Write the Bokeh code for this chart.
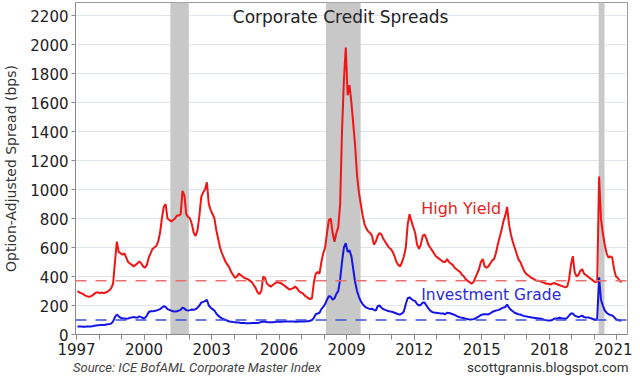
from bokeh.plotting import figure
from bokeh.models import BoxAnnotation, Span, Label, FixedTicker, Range1d, LinearAxis
from bokeh.embed import file_html
from bokeh.resources import INLINE

title_text = "Corporate Credit Spreads"
y_label = "Option-Adjusted Spread (bps)"
source_text = "Source: ICE BofAML Corporate Master Index"
blog_text = "scottgrannis.blogspot.com"
hy_name = "High Yield"
ig_name = "Investment Grade"

start_year = 1997  # monthly values, Jan 1997 onwards

hy = [
    300, 290, 285, 280, 270, 265, 260, 262, 270, 280, 290, 290,        # 1997
    285, 290, 285, 290, 295, 305, 320, 350, 500, 640, 570, 560,        # 1998
    550, 560, 530, 500, 490, 480, 470, 480, 490, 505, 490, 470,        # 1999
    460, 480, 530, 560, 590, 600, 610, 640, 700, 800, 880, 900,        # 2000
    800, 790, 780, 790, 800, 820, 820, 830, 990, 960, 830, 810,        # 2001
    800, 760, 700, 680, 720, 820, 950, 980, 1000, 1050, 900, 860,      # 2002
    830, 800, 720, 660, 600, 560, 530, 500, 480, 460, 430, 410,        # 2003
    390, 400, 420, 410, 400, 390, 385, 380, 370, 360, 340, 320,        # 2004
    290, 280, 300, 400, 390, 350, 340, 330, 340, 350, 360, 360,        # 2005
    355, 350, 340, 330, 320, 310, 315, 320, 330, 320, 300, 290,        # 2006
    285, 270, 260, 250, 245, 250, 360, 420, 430, 420, 500, 560,        # 2007
    600, 700, 790, 800, 700, 640, 700, 740, 900, 1400, 1750, 1980,     # 2008
    1650, 1720, 1600, 1450, 1300, 1100, 980, 900, 820, 760, 730, 710,  # 2009
    700, 680, 620, 640, 680, 700, 690, 660, 640, 620, 600, 590,        # 2010
    570, 540, 500, 480, 470, 500, 540, 600, 760, 830, 780, 740,        # 2011
    700, 620, 590, 620, 680, 690, 660, 620, 600, 580, 560, 540,        # 2012
    530, 520, 510, 500, 500, 520, 500, 490, 480, 460, 450, 440,        # 2013
    430, 410, 400, 380, 370, 360, 350, 360, 390, 420, 450, 500,        # 2014
    520, 470, 460, 470, 490, 510, 520, 560, 620, 670, 720, 780,        # 2015
    820, 880, 760, 690, 640, 600, 560, 520, 500, 470, 440, 420,        # 2016
    410, 400, 390, 385, 375, 370, 370, 365, 360, 355, 350, 350,        # 2017
    345, 350, 355, 350, 345, 340, 335, 330, 325, 330, 380, 480,        # 2018
    540, 430, 400, 410, 440, 450, 420, 410, 400, 390, 380, 370,        # 2019
    360, 365, 1090, 800, 700, 620, 560, 530, 540, 530, 450, 400,       # 2020
    390, 370, 360,                                                     # 2021
]

ig = [
    56, 55, 55, 54, 54, 55, 55, 56, 57, 60, 62, 63,          # 1997
    65, 66, 66, 68, 70, 72, 75, 90, 120, 138, 125, 115,      # 1998
    112, 110, 108, 110, 115, 118, 120, 118, 115, 125, 120, 112,  # 1999
    115, 130, 155, 160, 160, 162, 165, 170, 175, 185, 195, 190,  # 2000
    175, 170, 165, 160, 158, 160, 165, 170, 185, 180, 168, 165,  # 2001
    168, 172, 170, 175, 185, 200, 220, 225, 230, 240, 200, 185,  # 2002
    175, 165, 145, 130, 120, 110, 105, 100, 95, 90, 88, 86,      # 2003
    85, 83, 82, 80, 80, 79, 78, 78, 78, 80, 80, 80,              # 2004
    80, 82, 86, 90, 88, 86, 85, 84, 85, 86, 88, 88,              # 2005
    88, 88, 89, 90, 90, 90, 90, 89, 88, 88, 89, 90,              # 2006
    90, 90, 92, 92, 95, 100, 115, 140, 145, 150, 175, 190,       # 2007
    210, 240, 265, 260, 240, 250, 280, 300, 380, 500, 600, 630,  # 2008
    570, 580, 540, 450, 360, 300, 260, 230, 210, 195, 185, 180,  # 2009
    175, 178, 170, 165, 195, 200, 185, 175, 170, 165, 160, 158,  # 2010
    155, 150, 145, 140, 138, 145, 160, 210, 250, 256, 245, 235,  # 2011
    230, 210, 200, 205, 220, 220, 200, 180, 165, 155, 152, 150,  # 2012
    148, 146, 145, 145, 140, 150, 148, 145, 140, 135, 128, 122,  # 2013
    118, 115, 112, 108, 106, 104, 104, 106, 110, 118, 125, 135,  # 2014
    138, 140, 140, 138, 145, 155, 160, 165, 168, 172, 180, 185,  # 2015
    190, 207, 185, 170, 160, 150, 145, 140, 138, 132, 128, 125,  # 2016
    122, 120, 118, 116, 114, 112, 110, 108, 105, 100, 98, 97,    # 2017
    97, 100, 108, 110, 112, 115, 112, 110, 108, 115, 130, 145,   # 2018
    145, 130, 125, 120, 125, 130, 120, 118, 118, 115, 110, 105,  # 2019
    100, 110, 394, 240, 200, 166, 150, 140, 135, 131, 120, 105,  # 2020
    100, 97, 97,                                                 # 2021
]

hy_avg = 370
ig_avg = 100

recessions = [(2001.17, 2001.99), (2008.08, 2009.62), (2020.19, 2020.45)]

x_tick_years = [1997, 2000, 2003, 2006, 2009, 2012, 2015, 2018, 2021]
x_minor_years = list(range(1997, 2022))
y_ticks = list(range(0, 2201, 200))

# text anchor positions (x in years) for the footer texts
source_pos = 2002.35
blog_pos = 2018.28

x = [start_year + (i + 0.5) / 12.0 for i in range(len(hy))]

FONT = "DejaVu Sans"

p = figure(width=632, height=380,
           x_range=Range1d(1996.956, 2021.47), y_range=Range1d(0, 2290),
           output_backend="svg", toolbar_location=None,
           min_border_left=73, min_border_right=5, min_border_top=2,
           min_border_bottom=46, background_fill_color="white",
           border_fill_color="white")

p.outline_line_color = "#9a9a9a"
p.outline_line_width = 1

# recession bands
for a, b in recessions:
    p.add_layout(BoxAnnotation(left=a, right=b, fill_color="#c8c8c8",
                               fill_alpha=1.0, line_alpha=0, level="underlay"))

# grid
p.xgrid.grid_line_color = None
p.ygrid.grid_line_color = "#dfe6ee"
p.ygrid.grid_line_width = 1
p.ygrid.level = "image"

# averages
p.add_layout(Span(location=hy_avg, dimension="width", line_color="#e87070",
                  line_width=1.5, line_dash="11 9"))
p.add_layout(Span(location=ig_avg, dimension="width", line_color="#3b4fd9",
                  line_width=1.5, line_dash="11 9"))

p.line(x, hy, line_color="#f01414", line_width=2)
p.line(x, ig, line_color="#1414e6", line_width=2)

# axes
p.xaxis.ticker = FixedTicker(ticks=x_tick_years, minor_ticks=x_minor_years)
p.yaxis.ticker = FixedTicker(ticks=y_ticks)
for ax in (p.xaxis[0], p.yaxis[0]):
    ax.axis_line_color = "#8a8a8a"
    ax.major_tick_line_color = "#8a8a8a"
    ax.minor_tick_line_color = "#8a8a8a"
    ax.major_label_text_font = FONT
    ax.major_label_text_font_size = "15px"
    ax.major_label_text_color = "#222222"
    ax.major_tick_in = 0
    ax.minor_tick_in = 0
p.xaxis.major_tick_out = 5
p.xaxis.minor_tick_out = 5
p.xaxis.major_label_standoff = 3
p.yaxis.major_tick_out = 4
p.yaxis.minor_tick_out = 0
p.yaxis.major_label_standoff = 3
p.yaxis.axis_label = y_label
p.yaxis.axis_label_text_font = FONT
p.yaxis.axis_label_text_font_style = "normal"
p.yaxis.axis_label_text_font_size = "14px"
p.yaxis.axis_label_text_color = "#333333"
p.yaxis.axis_label_standoff = 8

# footer texts drawn as label-only axes below the x axis
src_axis = LinearAxis(ticker=FixedTicker(ticks=[source_pos]),
                      major_label_overrides={source_pos: source_text},
                      axis_line_color=None, major_tick_line_color=None,
                      minor_tick_line_color=None, major_tick_out=0,
                      major_tick_in=0, minor_tick_out=0, minor_tick_in=0,
                      major_label_standoff=2,
                      major_label_text_font="Roboto",
                      major_label_text_font_size="13px",
                      major_label_text_font_style="italic",
                      major_label_text_color="#444444")
p.add_layout(src_axis, "below")
blog_axis = LinearAxis(ticker=FixedTicker(ticks=[blog_pos]),
                       major_label_overrides={blog_pos: blog_text},
                       axis_line_color=None, major_tick_line_color=None,
                       minor_tick_line_color=None, major_tick_out=0,
                       major_tick_in=0, minor_tick_out=0, minor_tick_in=0,
                       major_label_standoff=-19,
                       major_label_text_font="Roboto",
                       major_label_text_font_size="13.5px",
                       major_label_text_color="#333333")
p.add_layout(blog_axis, "below")

# in-plot texts
p.add_layout(Label(x=2008.73, y=2187, text=title_text, text_font=FONT,
                   text_font_size="17px", text_color="#222222",
                   text_align="center", text_baseline="middle"))
p.add_layout(Label(x=2012.31, y=872, text=hy_name, text_font=FONT,
                   text_font_size="16px", text_color="#e81e1e",
                   text_align="left", text_baseline="middle"))
p.add_layout(Label(x=2012.31, y=270, text=ig_name, text_font=FONT,
                   text_font_size="15.5px", text_color="#2a2ae0",
                   text_align="left", text_baseline="middle"))

open("out.html", "w").write(file_html(p, INLINE))
